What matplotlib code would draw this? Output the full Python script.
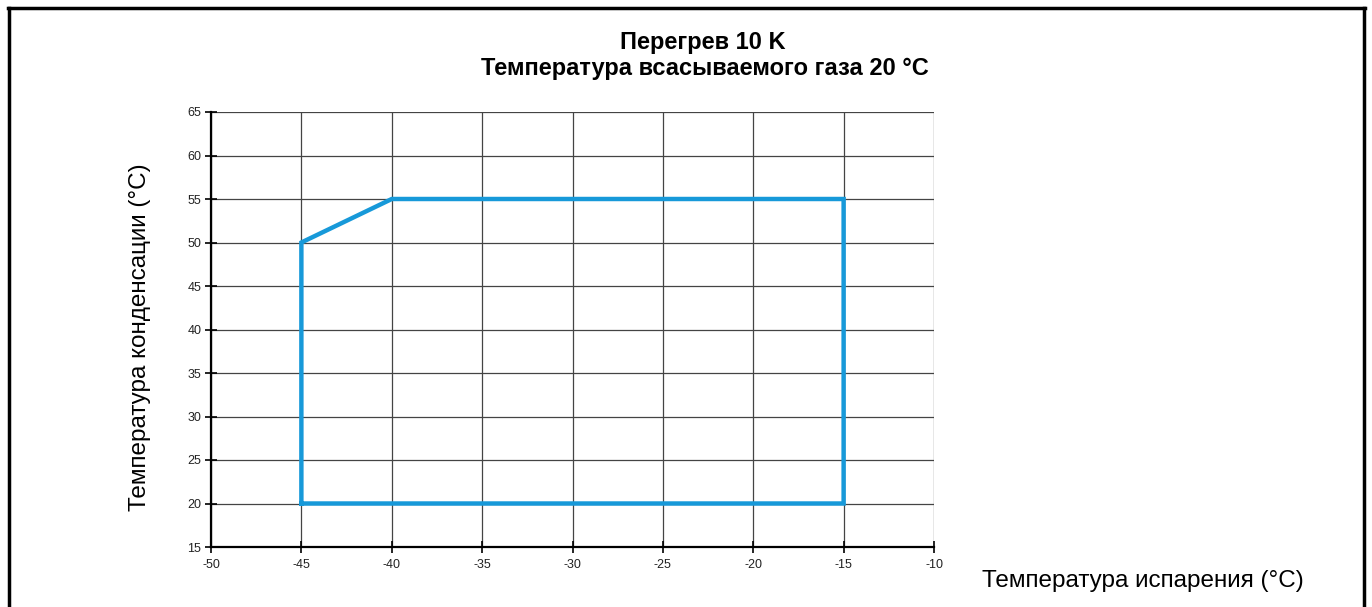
import matplotlib
matplotlib.use("Agg")
import matplotlib.pyplot as plt
from matplotlib.lines import Line2D

plt.rcParams['font.family'] = ['Liberation Sans', 'DejaVu Sans']

# Data: envelope polygon (evaporating temp, condensing temp)
evap_temp = [-45, -45, -40, -15, -15, -45]
cond_temp = [20, 50, 55, 55, 20, 20]
x_ticks = [-50, -45, -40, -35, -30, -25, -20, -15, -10]
y_ticks = [15, 20, 25, 30, 35, 40, 45, 50, 55, 60, 65]

W, H = 1372, 607
fig = plt.figure(figsize=(W / 100, H / 100), dpi=100)
ax = fig.add_axes([211 / W, 1 - 547 / H, (934 - 211) / W, (547 - 112) / H])

ax.set_xlim(-50, -10)
ax.set_ylim(15, 65)
ax.set_xticks(x_ticks)
ax.set_yticks(y_ticks)
ax.set_xticklabels([str(v) for v in x_ticks], fontsize=9, color='#222222')
ax.set_yticklabels([str(v) for v in y_ticks], fontsize=9, color='#222222')
ax.tick_params(direction='inout', length=8, width=1.2, colors='black', pad=3)
ax.tick_params(axis='x', pad=5)
for lab in ax.get_xticklabels() + ax.get_yticklabels():
    lab.set_color('#222222')
ax.grid(True, color='#444444', linewidth=0.9)
ax.set_axisbelow(True)

for s in ['top', 'right']:
    ax.spines[s].set_visible(False)
ax.spines['left'].set_linewidth(1.6)
ax.spines['bottom'].set_linewidth(1.6)

ax.plot(evap_temp, cond_temp, color='#1799d9', linewidth=3.2,
        solid_joinstyle='miter', zorder=5, clip_on=False)

fig.text(703 / W, 1 - 42 / H, 'Перегрев 10 K', ha='center', va='center',
         fontsize=17, fontweight='bold')
fig.text(705 / W, 1 - 68 / H, 'Температура всасываемого газа 20 °C',
         ha='center', va='center', fontsize=17, fontweight='bold')

fig.text(140 / W, 1 - 337 / H, 'Температура конденсации (°C)', rotation=90,
         ha='center', va='center', fontsize=17.5)
fig.text(1143 / W, 1 - 581 / H, 'Температура испарения (°C)',
         ha='center', va='center', fontsize=17.5)

# Outer frame (no bottom edge)
lw = 2.5
fig.add_artist(Line2D([9 / W, 9 / W], [0, 1 - 8 / H], color='black',
                      linewidth=lw, transform=fig.transFigure))
fig.add_artist(Line2D([1364 / W, 1364 / W], [0, 1 - 8 / H], color='black',
                      linewidth=lw, transform=fig.transFigure))
fig.add_artist(Line2D([8 / W, 1365 / W], [1 - 8 / H, 1 - 8 / H], color='black',
                      linewidth=lw, transform=fig.transFigure))

fig.savefig('out.png', dpi=100)
